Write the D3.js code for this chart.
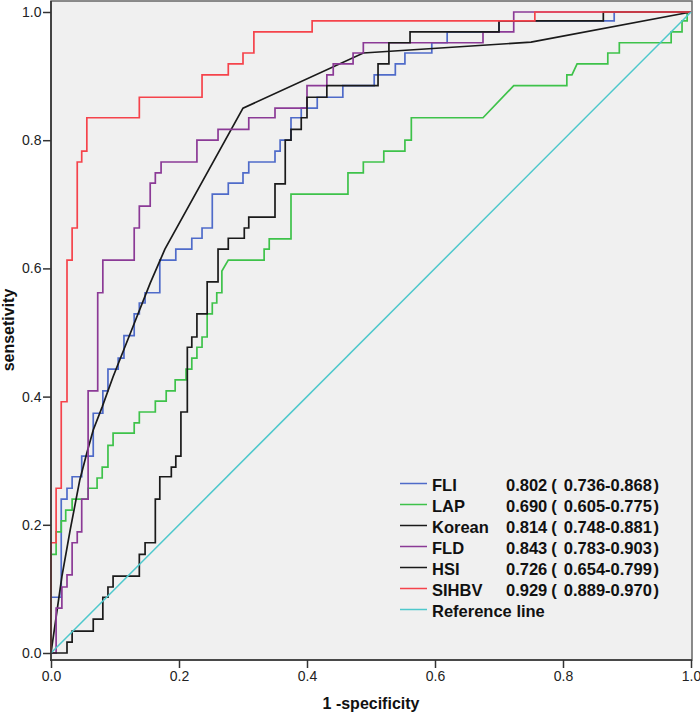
<!DOCTYPE html>
<html><head><meta charset="utf-8">
<script src="https://cdn.jsdelivr.net/npm/d3@7"></script>
<style>body{margin:0;background:#fff} svg{display:block}</style>
</head><body><svg id="c" width="700" height="713"></svg>
<script>
const seriesNames = ["FLI", "LAP", "Korean", "FLD", "HSI", "SIHBV"];
const seriesColors = ["#4f6bc9", "#3ec24a", "#1a1a1a", "#8b3a96", "#1a1a1a", "#f5434b"];
const aucValues = ["0.802", "0.690", "0.814", "0.843", "0.726", "0.929"];
const ciValues = ["0.736-0.868", "0.605-0.775", "0.748-0.881", "0.783-0.903", "0.654-0.799", "0.889-0.970"];
const refName = "Reference line";
const refColor = "#4ec8cc";
const xTicks = [0, 0.2, 0.4, 0.6, 0.8, 1.0];
const yTicks = [0, 0.2, 0.4, 0.6, 0.8, 1.0];

const fliFpr = [0,0,.016,.016,.025,.025,.033,.033,.048,.048,.066,.066,.081,.081,.089,.089,.105,.105,.114,.114,.130,.130,.138,.138,.147,.147,.170,.170,.195,.195,.220,.220,.236,.236,.252,.252,.277,.277,.300,.300,.309,.309,.350,.350,.358,.358,.375,.375,.391,.391,.416,.416,.456,.456,.505,.505,.538,.538,.553,.553,.595,.595,.619,.619,.700,.700,.880,.880,1];
const fliTpr = [0,.087,.087,.240,.240,.257,.257,.275,.275,.307,.307,.374,.374,.409,.409,.443,.443,.460,.460,.495,.495,.529,.529,.546,.546,.562,.562,.613,.613,.630,.630,.647,.647,.663,.663,.716,.716,.733,.733,.749,.749,.766,.766,.783,.783,.800,.800,.835,.835,.850,.850,.867,.867,.885,.885,.902,.902,.919,.919,.936,.936,.952,.952,.969,.969,.986,.986,1,1];

const lapFpr = [0,0,.008,.008,.016,.016,.023,.023,.033,.033,.058,.058,.072,.072,.080,.080,.089,.089,.097,.097,.130,.130,.138,.138,.163,.163,.180,.180,.194,.194,.211,.211,.220,.220,.228,.228,.236,.236,.244,.244,.252,.252,.259,.259,.267,.267,.277,.333,.333,.341,.341,.375,.375,.464,.464,.488,.488,.520,.520,.553,.553,.563,.563,.675,.723,.806,.806,.814,.822,.870,.870,.888,.888,.969,.969,.986,.986,.994,.994,1];
const lapTpr = [0,.154,.154,.189,.189,.206,.206,.223,.223,.240,.240,.257,.257,.273,.273,.290,.290,.324,.324,.343,.343,.359,.359,.376,.376,.393,.393,.409,.409,.426,.426,.443,.443,.460,.460,.477,.477,.493,.493,.529,.529,.546,.546,.562,.562,.596,.613,.613,.630,.630,.646,.646,.716,.716,.749,.749,.766,.766,.783,.783,.800,.800,.835,.835,.885,.885,.902,.902,.919,.919,.936,.936,.952,.952,.969,.969,.986,.986,1,1];

const koreanFpr = [0,.008,.017,.030,.045,.056,.066,.080,.097,.128,.155,.178,.300,.488,.750,1];
const koreanTpr = [0,.056,.119,.192,.270,.312,.348,.384,.431,.509,.577,.630,.850,.936,.953,1];

const fldFpr = [0,.008,.008,.017,.017,.025,.025,.033,.033,.041,.041,.048,.048,.058,.058,.073,.073,.081,.081,.130,.130,.138,.138,.155,.155,.163,.163,.172,.172,.228,.228,.261,.261,.309,.309,.350,.350,.400,.400,.431,.431,.441,.441,.472,.472,.488,.488,.675,.675,.723,.723,1];
const fldTpr = [0,0,.070,.070,.103,.103,.122,.122,.172,.172,.189,.189,.240,.240,.409,.409,.562,.562,.613,.613,.663,.663,.697,.697,.733,.733,.749,.749,.766,.766,.800,.800,.817,.817,.835,.835,.850,.850,.885,.885,.902,.902,.919,.919,.936,.936,.952,.952,.969,.969,1,1];

const hsiFpr = [0,.025,.025,.033,.033,.066,.066,.081,.081,.089,.089,.097,.097,.138,.138,.147,.147,.163,.163,.170,.170,.188,.188,.195,.195,.203,.203,.213,.213,.220,.220,.228,.228,.244,.244,.261,.261,.277,.277,.302,.302,.309,.309,.350,.350,.366,.366,.375,.375,.391,.391,.400,.400,.431,.431,.511,.511,.528,.528,.561,.561,.700,.700,.863,.863,1];
const hsiTpr = [0,0,.017,.017,.034,.034,.053,.053,.087,.087,.103,.103,.120,.120,.154,.154,.172,.172,.240,.240,.275,.275,.290,.290,.307,.307,.376,.376,.477,.477,.493,.493,.529,.529,.579,.579,.630,.630,.647,.647,.663,.663,.680,.680,.732,.732,.800,.800,.817,.817,.835,.835,.867,.867,.885,.885,.919,.919,.952,.952,.969,.969,.986,.986,1,1];

const sihbvFpr = [0,0,.008,.008,.016,.016,.025,.025,.033,.033,.041,.041,.048,.048,.056,.056,.138,.138,.236,.236,.277,.277,.300,.300,.317,.317,.408,.408,.756,.756,1];
const sihbvTpr = [0,.172,.172,.257,.257,.392,.392,.613,.613,.663,.663,.766,.766,.783,.783,.835,.835,.867,.867,.902,.902,.919,.919,.936,.936,.969,.969,.986,.986,1,1];

const refFpr = [0, 1];
const refTpr = [0, 1];

const seriesFpr = [fliFpr, lapFpr, koreanFpr, fldFpr, hsiFpr, sihbvFpr];
const seriesTpr = [fliTpr, lapTpr, koreanTpr, fldTpr, hsiTpr, sihbvTpr];

const FONT = "'Liberation Sans', Arial, Helvetica, sans-serif";
const svg = d3.select("#c");
const x = d3.scaleLinear().domain([0, 1]).range([51, 691]);
const y = d3.scaleLinear().domain([0, 1]).range([653, 12]);

// plot background + frame
svg.append("rect").attr("x", 51).attr("y", 1).attr("width", 641).attr("height", 659)
  .attr("fill", "#f0f0f0").attr("stroke", "#666").attr("stroke-width", 1.5);

const line = d3.line().x(d => x(d[0])).y(d => y(d[1]));
const g = svg.append("g");
seriesNames.forEach((n, i) => {
  g.append("path").datum(d3.zip(seriesFpr[i], seriesTpr[i]))
    .attr("d", line).attr("fill", "none").attr("stroke", seriesColors[i])
    .attr("stroke-width", 1.7).attr("stroke-linejoin", "miter");
});
g.append("path").datum(d3.zip(refFpr, refTpr)).attr("d", line)
  .attr("fill", "none").attr("stroke", refColor).attr("stroke-width", 1.5);

// axes
const fmt = d3.format(".1f");
const yAxis = svg.append("g").attr("transform", "translate(51,0)")
  .call(d3.axisLeft(y).tickValues(yTicks).tickFormat(fmt).tickSize(8).tickPadding(1.5));
const xAxis = svg.append("g").attr("transform", "translate(0,660)")
  .call(d3.axisBottom(x).tickValues(xTicks).tickFormat(fmt).tickSize(8).tickPadding(3));
[yAxis, xAxis].forEach(a => {
  a.select(".domain").remove();
  a.selectAll(".tick line").attr("stroke", "#333").attr("stroke-width", 1.5);
  a.selectAll(".tick text").attr("fill", "#222").style("font-family", FONT).style("font-size", "14px");
});
svg.append("line").attr("x1", 51).attr("x2", 51).attr("y1", 1).attr("y2", 661)
  .attr("stroke", "#333").attr("stroke-width", 1.6);
svg.append("line").attr("x1", 50).attr("x2", 692).attr("y1", 660).attr("y2", 660)
  .attr("stroke", "#333").attr("stroke-width", 1.6);

// axis titles
svg.append("text").attr("x", 371).attr("y", 709).attr("text-anchor", "middle")
  .style("font-family", FONT).style("font-size", "16px").style("font-weight", "bold")
  .attr("fill", "#111").text("1 -specificity");
svg.append("text").attr("transform", "translate(14,330) rotate(-90)").attr("text-anchor", "middle")
  .style("font-family", FONT).style("font-size", "16px").style("font-weight", "bold")
  .attr("fill", "#111").text("sensetivity");

// legend
const lg = svg.append("g");
const legendNames = seriesNames.concat([refName]);
const legendColors = seriesColors.concat([refColor]);
legendNames.forEach((n, i) => {
  const by = 491 + i * 21;
  lg.append("line").attr("x1", 400).attr("x2", 427).attr("y1", by - 7.5).attr("y2", by - 7.5)
    .attr("stroke", legendColors[i]).attr("stroke-width", 1.5);
  const txt = (s, xx) => lg.append("text").attr("x", xx).attr("y", by)
    .style("font-family", FONT).style("font-size", "16.5px")
    .style("font-weight", "bold").attr("fill", "#111").text(s);
  txt(n, 432);
  if (i < seriesNames.length) {
    const v = txt(aucValues[i], 506);
    const vEnd = 506 + v.node().getComputedTextLength();
    const op = txt("(", vEnd + 4);
    const ciX = vEnd + 4 + op.node().getComputedTextLength() + 7;
    const t = txt(ciValues[i], ciX);
    const w = t.node().getComputedTextLength();
    txt(")", ciX + w + 1.5);
  }
});
</script></body></html>
